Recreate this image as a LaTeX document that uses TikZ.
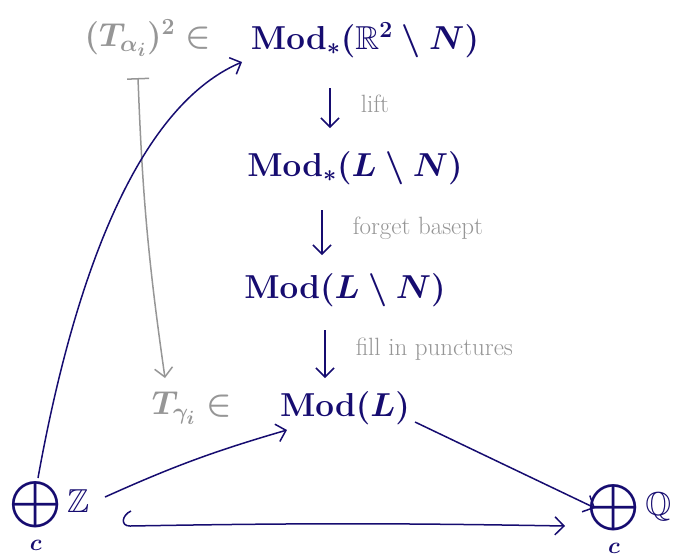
\documentclass[tikz,border=0pt]{standalone}
\usepackage{amsmath,amssymb,graphicx}
\usetikzlibrary{arrows.meta,calc}
\definecolor{navyink}{RGB}{22,12,112}
\definecolor{grayink}{RGB}{150,150,150}
\newcommand{\bigtxt}[1]{\scalebox{1.6}{\huge\boldmath #1}}
\tikzset{
  ink/.style={navyink,inner sep=0pt},
  pale/.style={grayink,inner sep=0pt},
  note/.style={grayink,font=\fontsize{25}{30}\selectfont,right,inner sep=0pt,xshift=30pt},
  arr/.style={navyink,line width=1.5pt,-{Straight Barb[length=9pt,width=18pt]}},
  garr/.style={grayink,line width=1.5pt,{Bar[width=22pt]}-{Straight Barb[length=9pt,width=18pt]}}
}
\begin{document}
\begin{tikzpicture}[x=1pt,y=-1pt]
\useasboundingbox (0,0) rectangle (682,558);
\node[ink] (m1) at (365,40) {\bigtxt{$\mathrm{Mod}_*(\mathbb{R}^2\setminus N)$}};
\node[pale] (ta) at (148,38) {\bigtxt{$(T_{\alpha_i})^2\in$}};
\node[ink] (m2) at (355,168) {\bigtxt{$\mathrm{Mod}_*(L\setminus N)$}};
\node[ink] (m3) at (345,290) {\bigtxt{$\mathrm{Mod}(L\setminus N)$}};
\node[ink] (m4) at (345,408) {\bigtxt{$\mathrm{Mod}(L)$}};
\node[pale] (tg) at (192,408) {\bigtxt{$T_{\gamma_i}\in$}};
\node[ink] (z) at (50,516) {\bigtxt{$\displaystyle\bigoplus_c\mathbb{Z}$}};
\node[ink] (q) at (630,519) {\bigtxt{$\displaystyle\bigoplus_c\mathbb{Q}$}};

\draw[arr] ($(m1.center)+(-35,48)$) -- node[note,pos=0.4]{lift} ($(m2.center)+(-25,-40)$);
\draw[arr] ($(m2.center)+(-33,42)$) -- node[note,pos=0.4]{forget basept} ($(m3.center)+(-23,-35)$);
\draw[arr] ($(m3.center)+(-20,40)$) -- node[note,pos=0.4]{fill in punctures} ($(m4.center)+(-20,-30)$);

\draw[garr] ($(ta.center)+(-10,40)$) to[bend right=3] ($(tg.center)+(-27,-30)$);

\draw[arr] ($(z.center)+(-12,-38)$) .. controls (70,300) and (130,110) .. ($(m1.center)+(-123,22)$);
\draw[arr] ($(z.center)+(55,-19)$) to[bend left=4] ($(m4.center)+(-58,22)$);
\draw[arr] ($(m4.center)+(70,14)$) -- ($(q.center)+(-35,-11)$);
\draw[arr] ($(z.center)+(81,-5)$) .. controls +(-9,4) and +(-10,0) .. ($(z.center)+(80,10)$) to[bend left=1] ($(q.center)+(-65,7)$);
\end{tikzpicture}
\end{document}
